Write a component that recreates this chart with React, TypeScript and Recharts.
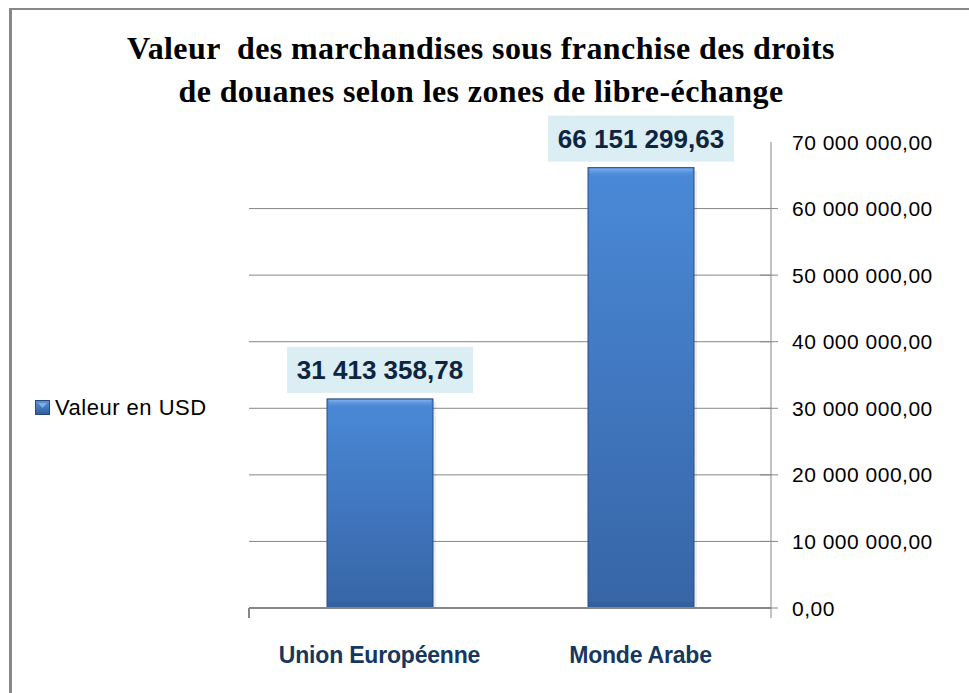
import React from 'react';
import { BarChart, Bar, XAxis, YAxis, CartesianGrid, Legend, LabelList } from 'recharts';

// chart data
const zones = ['Union Européenne', 'Monde Arabe'];
const valeursUsd = [31413358.78, 66151299.63];
const yTicks = [0, 10000000, 20000000, 30000000, 40000000, 50000000, 60000000, 70000000];
const seriesName = 'Valeur en USD';
const titleLines = [
  'Valeur  des marchandises sous franchise des droits',
  'de douanes selon les zones de libre-échange'
];

const data = zones.map((zone, i) => ({ zone, value: valeursUsd[i] }));

const W = 969;
const H = 693;
const MARGIN = { top: 142, right: 0, bottom: 34, left: 249 };
const YAXIS_W = 198;
const XAXIS_H = 51;
const PLOT_W = W - MARGIN.left - MARGIN.right - YAXIS_W;
const Y_MAX = yTicks[yTicks.length - 1];

const AXIS_GRAY = '#868686';
const SANS = '"Liberation Sans", Arial, sans-serif';

const fmt = (v: number) => {
  const [int, dec] = v.toFixed(2).split('.');
  return int.replace(/\B(?=(\d{3})+(?!\d))/g, ' ') + ',' + dec;
};

const BevelBar = (props: any) => {
  const { x, y, width, height } = props;
  if (!height || height <= 0) return null;
  return (
    <g>
      <rect x={x + 3} y={y + 3} width={width} height={height - 3} fill="#000" opacity={0.07} />
      <rect x={x} y={y} width={width} height={height} fill="url(#barFill)" stroke="#2b4f82" strokeWidth={1} />
      <rect x={x + 1.5} y={y + 1} width={width - 3} height={8} fill="url(#barTop)" />
      <rect x={x + 1} y={y + height - 6} width={width - 2} height={5} fill="#2f5c98" opacity={0.5} />
    </g>
  );
};

const ValueLabel = (props: any) => {
  const { x, y, width, value } = props;
  const cx = x + width / 2;
  const boxW = 186;
  const boxH = 46;
  const top = y - 6 - boxH;
  return (
    <g>
      <rect x={cx - boxW / 2} y={top} width={boxW} height={boxH} fill="#dbeef4" />
      <text
        x={cx}
        y={top + boxH / 2 + 9.5}
        textAnchor="middle"
        fontFamily={SANS}
        fontWeight="bold"
        fontSize={26}
        fill="#0f243e"
      >
        {fmt(value)}
      </text>
    </g>
  );
};

const ZoneTick = (props: any) => {
  const { x, y, payload, index } = props;
  const half = PLOT_W / zones.length / 2;
  return (
    <g>
      {index === 0 && (
        <line x1={x - half} x2={x - half} y1={y} y2={y + 10} stroke={AXIS_GRAY} strokeWidth={2} />
      )}
      <text
        x={x}
        y={y + 55}
        textAnchor="middle"
        fontFamily={SANS}
        fontWeight="bold"
        fontSize={23}
        letterSpacing={-0.2}
        fill="#17375e"
      >
        {payload.value}
      </text>
    </g>
  );
};

const ValueTick = (props: any) => {
  const { x, y, payload } = props;
  const axisX = x - 21;
  return (
    <g>
      {payload.value < Y_MAX && (
        <line x1={axisX - 11} x2={axisX + 7} y1={y} y2={y} stroke={AXIS_GRAY} strokeWidth={1} />
      )}
      {payload.value === 0 && (
        <line x1={axisX} x2={axisX} y1={y} y2={y + 10} stroke={AXIS_GRAY} strokeWidth={1} />
      )}
      <text
        x={x}
        y={y}
        dy="0.36em"
        textAnchor="start"
        fontFamily={SANS}
        fontSize={21}
        letterSpacing={0.5}
        fill="#000"
      >
        {fmt(payload.value)}
      </text>
    </g>
  );
};

const LegendBox = () => (
  <div style={{ display: 'flex', alignItems: 'center', fontFamily: SANS, fontSize: 22, letterSpacing: 0.5, color: '#000' }}>
    <svg width={16} height={16} style={{ marginRight: 4 }}>
      <defs>
        <linearGradient id="legFill" x1="0" y1="0" x2="0" y2="1">
          <stop offset="0%" stopColor="#5b95dc" />
          <stop offset="100%" stopColor="#2e5c9c" />
        </linearGradient>
      </defs>
      <rect x={0.5} y={0.5} width={14} height={14} fill="url(#legFill)" stroke="#27497a" />
      <polygon points="3,3 12,3 7.5,8" fill="#8fb9ec" opacity={0.8} />
    </svg>
    <span>{seriesName}</span>
  </div>
);

export default function App() {
  return (
    <div style={{ position: 'absolute', left: 0, top: 0, width: W, height: H, background: '#fff' }}>
      <div
        style={{
          position: 'absolute',
          left: 9,
          top: 8,
          width: W - 9,
          height: H - 8,
          borderLeft: '3px solid #888',
          borderTop: '2px solid #888',
          boxSizing: 'border-box'
        }}
      />
      <div
        style={{
          position: 'absolute',
          left: 0,
          top: 27,
          width: 962,
          textAlign: 'center',
          fontFamily: '"Liberation Serif", "Times New Roman", serif',
          fontWeight: 'bold',
          fontSize: 32,
          letterSpacing: 0.4,
          lineHeight: '43px',
          color: '#000',
          whiteSpace: 'pre'
        }}
      >
        {titleLines.map((line) => (
          <div key={line}>{line}</div>
        ))}
      </div>
      <div style={{ position: 'absolute', left: 0, top: 0 }}>
        <BarChart width={W} height={H} data={data} margin={MARGIN}>
          <defs>
            <linearGradient id="barFill" x1="0" y1="0" x2="0" y2="1">
              <stop offset="0%" stopColor="#4a89d8" />
              <stop offset="100%" stopColor="#3765a6" />
            </linearGradient>
            <linearGradient id="barTop" x1="0" y1="0" x2="0" y2="1">
              <stop offset="0%" stopColor="#7fb0ec" />
              <stop offset="100%" stopColor="#4a89d8" stopOpacity={0} />
            </linearGradient>
          </defs>
          <CartesianGrid
            vertical={false}
            stroke={AXIS_GRAY}
            horizontalCoordinatesGenerator={({ yAxis, offset }: any) =>
              yTicks
                .filter((t) => t < Y_MAX)
                .map((t) =>
                  yAxis && typeof yAxis.scale === 'function'
                    ? yAxis.scale(t)
                    : offset.top + offset.height * (1 - t / Y_MAX)
                )
            }
          />
          <XAxis
            dataKey="zone"
            height={XAXIS_H}
            axisLine={{ stroke: AXIS_GRAY, strokeWidth: 2 }}
            tickLine={false}
            tickSize={0}
            tickMargin={0}
            tick={<ZoneTick />}
            interval={0}
          />
          <YAxis
            orientation="right"
            width={YAXIS_W}
            domain={[0, Y_MAX]}
            ticks={yTicks}
            axisLine={{ stroke: AXIS_GRAY }}
            tickLine={false}
            tickSize={0}
            tickMargin={21}
            tick={<ValueTick />}
            interval={0}
          />
          <Legend
            layout="horizontal"
            align="center"
            verticalAlign="middle"
            content={<LegendBox />}
            wrapperStyle={{ left: 35, top: 395, width: 220, height: 26 }}
          />
          <Bar dataKey="value" name={seriesName} barSize={106} shape={<BevelBar />} isAnimationActive={false}>
            <LabelList dataKey="value" content={<ValueLabel />} />
          </Bar>
        </BarChart>
      </div>
    </div>
  );
}
